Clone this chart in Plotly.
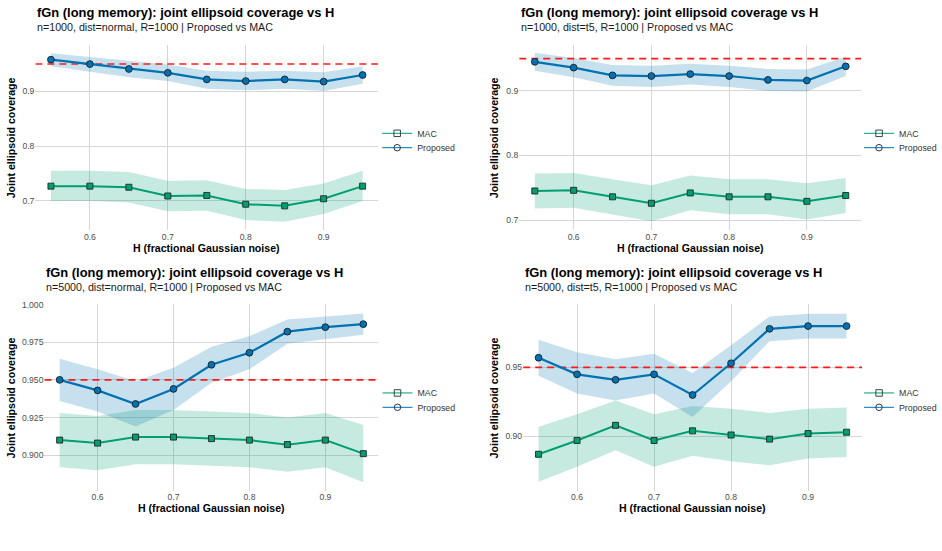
import plotly.graph_objects as go

# ---------------- data ----------------
H = [0.55, 0.60, 0.65, 0.70, 0.75, 0.80, 0.85, 0.90, 0.95]
x_ticks = [0.6, 0.7, 0.8, 0.9]
nominal = 0.95

titles = ["fGn (long memory): joint ellipsoid coverage vs H"] * 4
subtitles = [
    "n=1000, dist=normal, R=1000 | Proposed vs MAC",
    "n=1000, dist=t5, R=1000 | Proposed vs MAC",
    "n=5000, dist=normal, R=1000 | Proposed vs MAC",
    "n=5000, dist=t5, R=1000 | Proposed vs MAC",
]
x_title = "H (fractional Gaussian noise)"
y_title = "Joint ellipsoid coverage"
series_names = ["MAC", "Proposed"]

# panel 1: n=1000, normal
p1_prop = [0.958, 0.950, 0.941, 0.934, 0.922, 0.919, 0.922, 0.918, 0.930]
p1_prop_lo = [0.946, 0.936, 0.926, 0.919, 0.905, 0.902, 0.905, 0.901, 0.914]
p1_prop_hi = [0.970, 0.963, 0.955, 0.949, 0.938, 0.936, 0.938, 0.935, 0.946]
p1_mac = [0.727, 0.727, 0.725, 0.709, 0.710, 0.694, 0.691, 0.704, 0.727]
p1_mac_lo = [0.700, 0.700, 0.697, 0.681, 0.682, 0.665, 0.662, 0.676, 0.700]
p1_mac_hi = [0.755, 0.755, 0.753, 0.737, 0.738, 0.722, 0.720, 0.732, 0.755]

# panel 2: n=1000, t5
p2_prop = [0.945, 0.936, 0.924, 0.923, 0.926, 0.923, 0.917, 0.916, 0.938]
p2_prop_lo = [0.931, 0.921, 0.908, 0.906, 0.910, 0.906, 0.900, 0.899, 0.923]
p2_prop_hi = [0.959, 0.951, 0.940, 0.939, 0.942, 0.939, 0.934, 0.933, 0.953]
p2_mac = [0.745, 0.746, 0.736, 0.726, 0.742, 0.736, 0.736, 0.729, 0.738]
p2_mac_lo = [0.718, 0.719, 0.709, 0.698, 0.715, 0.709, 0.709, 0.701, 0.711]
p2_mac_hi = [0.772, 0.773, 0.763, 0.754, 0.769, 0.763, 0.763, 0.757, 0.765]

# panel 3: n=5000, normal
p3_prop = [0.950, 0.943, 0.934, 0.944, 0.960, 0.968, 0.982, 0.985, 0.987]
p3_prop_lo = [0.936, 0.929, 0.919, 0.930, 0.948, 0.957, 0.974, 0.977, 0.980]
p3_prop_hi = [0.964, 0.957, 0.949, 0.958, 0.972, 0.979, 0.990, 0.992, 0.994]
p3_mac = [0.910, 0.908, 0.912, 0.912, 0.911, 0.910, 0.907, 0.910, 0.901]
p3_mac_lo = [0.892, 0.890, 0.894, 0.894, 0.893, 0.892, 0.889, 0.892, 0.882]
p3_mac_hi = [0.928, 0.926, 0.930, 0.930, 0.929, 0.928, 0.925, 0.928, 0.920]

# panel 4: n=5000, t5
p4_prop = [0.957, 0.945, 0.941, 0.945, 0.930, 0.953, 0.978, 0.980, 0.980]
p4_prop_lo = [0.944, 0.931, 0.926, 0.931, 0.914, 0.940, 0.969, 0.971, 0.971]
p4_prop_hi = [0.970, 0.961, 0.956, 0.960, 0.946, 0.966, 0.987, 0.989, 0.989]
p4_mac = [0.887, 0.897, 0.908, 0.897, 0.904, 0.901, 0.898, 0.902, 0.903]
p4_mac_lo = [0.867, 0.878, 0.890, 0.878, 0.886, 0.882, 0.879, 0.884, 0.885]
p4_mac_hi = [0.907, 0.916, 0.926, 0.916, 0.922, 0.920, 0.917, 0.920, 0.921]

y_tick_sets = [
    [0.7, 0.8, 0.9],
    [0.7, 0.8, 0.9],
    [0.900, 0.925, 0.950, 0.975, 1.000],
    [0.90, 0.95],
]
y_tick_fmt = [".1f", ".1f", ".3f", ".2f"]

panels = [
    (p1_prop, p1_prop_lo, p1_prop_hi, p1_mac, p1_mac_lo, p1_mac_hi),
    (p2_prop, p2_prop_lo, p2_prop_hi, p2_mac, p2_mac_lo, p2_mac_hi),
    (p3_prop, p3_prop_lo, p3_prop_hi, p3_mac, p3_mac_lo, p3_mac_hi),
    (p4_prop, p4_prop_lo, p4_prop_hi, p4_mac, p4_mac_lo, p4_mac_hi),
]

# ---------------- layout geometry (pixels) ----------------
W, Hh = 942, 551
panel_x = [(35.4, 378.6), (519.8, 862.2), (44.5, 378.9), (523.7, 862.9)]
panel_y = [(40, 227), (40, 227), (302, 490), (302, 490)]
y_ranges = [(0.647, 0.9855), (0.6847, 0.9716), (0.8765, 1.0002), (0.8607, 0.9958)]
x_range = (0.53, 0.97)
legend_x = [377.6, 860.0, 377.9, 860.0]

BLUE = "#0072B2"
GREEN = "#009E73"
BLUE_FILL = "rgba(0,114,178,0.22)"
GREEN_FILL = "rgba(0,158,115,0.22)"
FONT = "Liberation Sans, Arial, sans-serif"
GRID = "#d6d6d6"


def fx(px):
    return px / W


def fy(py):
    return 1 - py / Hh


fig = go.Figure()
annotations = []
layout_axes = {}

for i, (prop, plo, phi, mac, mlo, mhi) in enumerate(panels):
    k = "" if i == 0 else str(i + 1)
    xa, ya = "x" + k, "y" + k
    x0, x1 = panel_x[i]
    y0, y1 = panel_y[i]

    # ribbons
    fig.add_trace(go.Scatter(x=H + H[::-1], y=mhi + mlo[::-1], fill="toself",
                             fillcolor=GREEN_FILL, line=dict(width=0), mode="lines",
                             hoverinfo="skip", showlegend=False, xaxis=xa, yaxis=ya))
    fig.add_trace(go.Scatter(x=H + H[::-1], y=phi + plo[::-1], fill="toself",
                             fillcolor=BLUE_FILL, line=dict(width=0), mode="lines",
                             hoverinfo="skip", showlegend=False, xaxis=xa, yaxis=ya))
    # nominal reference line
    fig.add_trace(go.Scatter(x=list(x_range), y=[nominal, nominal], mode="lines",
                             line=dict(color="#ff1a1a", width=1.6, dash="7px,5px"),
                             hoverinfo="skip", showlegend=False, xaxis=xa, yaxis=ya))
    # series
    fig.add_trace(go.Scatter(x=H, y=mac, mode="lines+markers", name="MAC",
                             line=dict(color=GREEN, width=2),
                             marker=dict(symbol="square", size=6, color=GREEN,
                                         line=dict(color="#1b2a22", width=0.9)),
                             showlegend=False, xaxis=xa, yaxis=ya))
    fig.add_trace(go.Scatter(x=H, y=prop, mode="lines+markers", name="Proposed",
                             line=dict(color=BLUE, width=2.2),
                             marker=dict(symbol="circle", size=6.8, color=BLUE,
                                         line=dict(color="#14202b", width=0.9)),
                             showlegend=False, xaxis=xa, yaxis=ya))

    # legend entries (one legend box per entry for exact placement)
    leg_specs = [
        (GREEN, "square-open", "#2d4a3e", y0 + 89.5),
        (BLUE, "circle-open", "#253a4a", y0 + 104),
    ]
    for j, (col, sym, mcol, ly) in enumerate(leg_specs):
        n = 2 * i + j + 1
        leg = "legend" if n == 1 else f"legend{n}"
        fig.add_trace(go.Scatter(x=[None], y=[None], mode="lines+markers",
                                 name=series_names[j],
                                 line=dict(color=col, width=1),
                                 marker=dict(symbol=sym, size=6.5, color=mcol,
                                             line=dict(width=1)),
                                 legend=leg, xaxis=xa, yaxis=ya))
        layout_axes[leg] = dict(x=fx(legend_x[i]), y=fy(ly), xanchor="left", yanchor="middle",
                                font=dict(family=FONT, size=8.8, color="#333333"),
                                bgcolor="rgba(0,0,0,0)", borderwidth=0, itemwidth=30)

    layout_axes["xaxis" + k] = dict(
        domain=[fx(x0), fx(x1)], range=list(x_range), anchor=ya,
        tickvals=x_ticks, ticktext=[f"{v:.1f}" for v in x_ticks],
        showgrid=True, gridcolor=GRID, gridwidth=1.2, zeroline=False,
        showline=False, ticks="", tickfont=dict(family=FONT, size=8.6, color="#4d4d4d"),
        fixedrange=True)
    layout_axes["yaxis" + k] = dict(
        domain=[fy(y1), fy(y0)], range=list(y_ranges[i]), anchor=xa,
        tickvals=y_tick_sets[i], ticktext=[format(v, y_tick_fmt[i]) for v in y_tick_sets[i]],
        showgrid=True, gridcolor=GRID, gridwidth=1.2, zeroline=False,
        showline=False, ticks="", tickfont=dict(family=FONT, size=8.6, color="#4d4d4d"),
        fixedrange=True)

    # titles
    top = y0 - 40
    annotations.append(dict(text="<b>" + titles[i] + "</b>", x=fx(x0), y=fy(top + 8),
                            xref="paper", yref="paper", xanchor="left", yanchor="middle",
                            showarrow=False, font=dict(family=FONT, size=12.9, color="black")))
    annotations.append(dict(text=subtitles[i], x=fx(x0), y=fy(top + 22.5),
                            xref="paper", yref="paper", xanchor="left", yanchor="middle",
                            showarrow=False, font=dict(family=FONT, size=10.7, color="#1a1a1a")))
    annotations.append(dict(text="<b>" + x_title + "</b>", x=fx((x0 + x1) / 2), y=fy(y1 + 18),
                            xref="paper", yref="paper", xanchor="center", yanchor="middle",
                            showarrow=False, font=dict(family=FONT, size=10.6, color="black")))
    ytx = 11 if i in (0, 2) else 494.5
    annotations.append(dict(text="<b>" + y_title + "</b>", x=fx(ytx), y=fy((y0 + y1) / 2),
                            xref="paper", yref="paper", xanchor="center", yanchor="middle",
                            textangle=-90, showarrow=False,
                            font=dict(family=FONT, size=10.6, color="black")))

fig.update_layout(
    width=W, height=Hh, margin=dict(l=0, r=0, t=0, b=0),
    paper_bgcolor="white", plot_bgcolor="white",
    annotations=annotations, showlegend=True,
    font=dict(family=FONT),
    **layout_axes,
)

fig.write_html("out.html")
